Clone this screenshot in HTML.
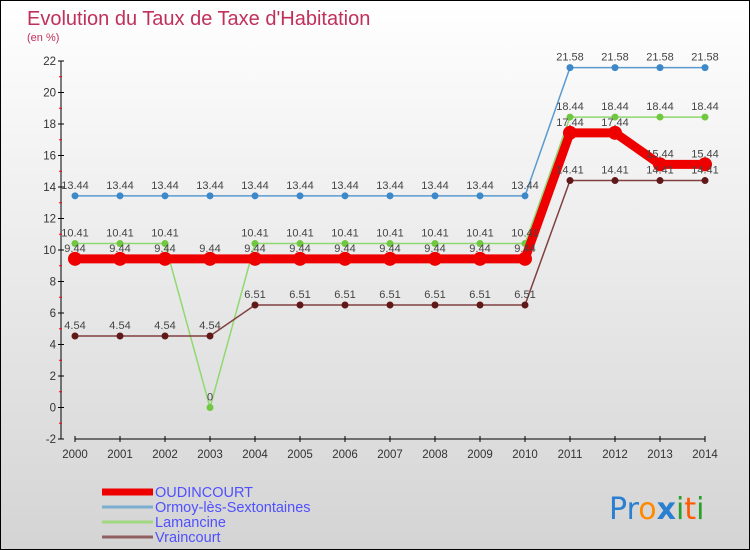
<!DOCTYPE html>
<html><head><meta charset="utf-8"><style>
body{margin:0}
#c{width:750px;height:550px;position:relative;box-sizing:border-box;border:1px solid #000;background:linear-gradient(#fff,#d4d4d4);font-family:"Liberation Sans",sans-serif;overflow:hidden}
</style></head><body>
<div id="c">
<svg id="s" width="748" height="548" xmlns="http://www.w3.org/2000/svg">
<text x="26" y="24" font-size="20" fill="#c0305a">Evolution du Taux de Taxe d'Habitation</text>
<text x="26" y="40" font-size="11" fill="#c0305a">(en %)</text>
<g id="g"></g>
<text x="608" y="518" font-size="30" font-family="DejaVu Sans, sans-serif"><tspan fill="#2a7fd0">Pr</tspan><tspan fill="#ff8a00">o</tspan><tspan fill="#2a7fd0" font-weight="bold">x</tspan><tspan fill="#2aa02a">i</tspan><tspan fill="#ff5a00">t</tspan><tspan fill="#2aa02a">i</tspan></text>
</svg>
</div>
<script>
const years=[2000,2001,2002,2003,2004,2005,2006,2007,2008,2009,2010,2011,2012,2013,2014];
const yTicks=[-2,0,2,4,6,8,10,12,14,16,18,20,22];
const oudincourt=[9.44,9.44,9.44,9.44,9.44,9.44,9.44,9.44,9.44,9.44,9.44,17.44,17.44,15.44,15.44];
const ormoy=[13.44,13.44,13.44,13.44,13.44,13.44,13.44,13.44,13.44,13.44,13.44,21.58,21.58,21.58,21.58];
const lamancine=[10.41,10.41,10.41,0,10.41,10.41,10.41,10.41,10.41,10.41,10.41,18.44,18.44,18.44,18.44];
const vraincourt=[4.54,4.54,4.54,4.54,6.51,6.51,6.51,6.51,6.51,6.51,6.51,14.41,14.41,14.41,14.41];
const names=["OUDINCOURT","Ormoy-lès-Sextontaines","Lamancine","Vraincourt"];
const NS="http://www.w3.org/2000/svg";
const g=document.getElementById('g');
const X=y=>74+(y-2000)*45;
const Y=v=>406.5-v*15.75;
function el(t,a,p){const e=document.createElementNS(NS,t);for(const k in a)e.setAttribute(k,a[k]);(p||g).appendChild(e);return e;}
function fmt(v){return String(v);}
let ax=el('line',{x1:60,y1:Y(22),x2:60,y2:Y(-2),stroke:'#000'});

let bx=el('line',{x1:74,y1:Y(-2),x2:704,y2:Y(-2),stroke:'#000'});

yTicks.forEach(t=>{
  el('line',{x1:57,y1:Y(t),x2:63,y2:Y(t),stroke:'#000'});
  if(t<22){el('line',{x1:58,y1:Y(t+1),x2:61,y2:Y(t+1),stroke:'#f00'});}
  const tx=el('text',{x:55,y:Y(t)+4,'font-size':11.5,'text-anchor':'end',fill:'#333'});tx.textContent=t;
  
});
years.forEach(y=>{
  el('line',{x1:X(y),y1:Y(-2)-3,x2:X(y),y2:Y(-2)+3,stroke:'#000'});
  const tx=el('text',{x:X(y),y:Y(-2)+19,'font-size':11.5,'text-anchor':'middle',fill:'#333'});tx.textContent=y;
  
});
const series=[
 {d:ormoy,c:'#5a9ad0',w:1.5,r:3.5,f:'#3c88c8',n:'ormoy'},
 {d:lamancine,c:'#90d870',w:1.5,r:3.5,f:'#70c840',n:'lamancine'},
 {d:vraincourt,c:'#804040',w:1.5,r:3.5,f:'#601818',n:'vraincourt'},
 {d:oudincourt,c:'#ee0000',w:9,r:7,f:'#ee0000',n:'oudincourt'}
];
series.forEach(s=>{
  const pl=el('polyline',{points:s.d.map((v,i)=>X(years[i])+','+Y(v)).join(' '),fill:'none',stroke:s.c,'stroke-width':s.w,'stroke-linejoin':'round'});
  
  s.d.forEach((v,i)=>{
    const c=el('circle',{cx:X(years[i]),cy:Y(v),r:s.r,fill:s.f});
    
  });
});
series.forEach(s=>{
  s.d.forEach((v,i)=>{
    const t=el('text',{x:X(years[i]),y:Y(v)-7,'font-size':11,'text-anchor':'middle',fill:'#444'});t.textContent=fmt(v);
    
  });
});
const lc=['#ee0000','#7aaed0','#a0d880','#906060'],lw=[7,3,3,3];
names.forEach((n,i)=>{
  const yy=491+i*15;
  const l=el('line',{x1:101,y1:yy,x2:152,y2:yy,stroke:lc[i],'stroke-width':lw[i]});
  
  const t=el('text',{x:154,y:yy+5,'font-size':14.5,fill:'#5050ff'});t.textContent=n;
  
});
</script>
</body></html>
